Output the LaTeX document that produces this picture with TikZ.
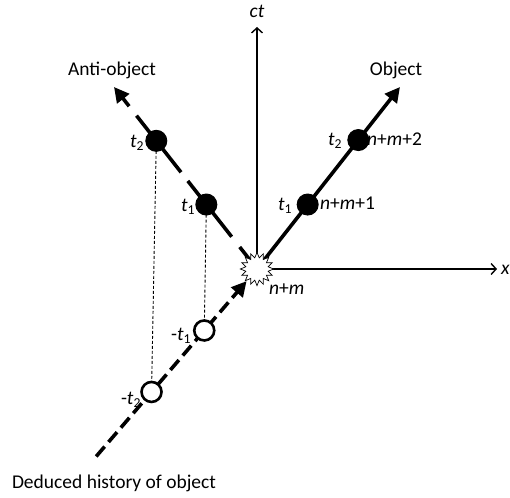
\documentclass[tikz,border=0pt]{standalone}
\usepackage{fontspec}
\setmainfont{Carlito}
\usetikzlibrary{arrows.meta,calc}
\begin{document}
\begin{tikzpicture}[x=1bp,y=-1bp,
  lbl/.style={inner sep=0pt,font=\fontsize{19.5bp}{22bp}\selectfont},
  fulldot/.style={circle,fill=black,draw=black,line width=1bp,minimum size=21bp,inner sep=0pt},
  opendot/.style={circle,fill=white,draw=black,line width=2.6bp,minimum size=20bp,inner sep=0pt},
  axisline/.style={line width=1.4bp,-{Straight Barb[length=5bp,width=11bp,line width=1.4bp]}},
  thickline/.style={line width=3.6bp,line cap=butt},
  tipF/.style={-{Triangle[length=15bp,width=15bp]}},
  dropline/.style={line width=0.9bp,dash pattern=on 3bp off 2bp}]
\path[use as bounding box] (0,0) rectangle (510,498);
\coordinate (O) at (257,269);
\coordinate (OA) at (400,87);
\coordinate (AA) at (114,87);
\coordinate (HA) at (100,452);
\coordinate (CT) at (257,27);
\coordinate (XT) at (497,269);
% points
\coordinate (p1) at ($(O)!82bp!(OA)$);
\coordinate (p2) at ($(O)!164bp!(OA)$);
\coordinate (a1) at ($(O)!82bp!(AA)$);
\coordinate (a2) at ($(O)!163bp!(AA)$);
\coordinate (h1) at ($(O)!81bp!(HA)$);
\coordinate (h2) at ($(O)!162bp!(HA)$);
\coordinate (hend) at ($(O)!247bp!(HA)$);
\coordinate (htip) at ($(O)!16bp!(HA)$);
% axes
\draw[axisline] (O) -- (CT);
\draw[axisline] (O) -- (XT);
% drop lines
\draw[dropline] (a2) -- (h2);
\draw[dropline] (a1) -- (h1);
% object line
\draw[thickline,tipF] (O) -- (OA);
% anti-object dashed line
\draw[thickline] ($(O)!12bp!(AA)$) -- ($(O)!28bp!(AA)$);
\draw[thickline] ($(O)!41bp!(AA)$) -- ($(O)!112bp!(AA)$);
\draw[thickline] ($(O)!123bp!(AA)$) -- ($(O)!195bp!(AA)$);
\draw[thickline,tipF] ($(O)!207bp!(AA)$) -- (AA);
% history line
\draw[thickline,tipF,dash pattern=on 13bp off 6bp] (hend) -- (htip);
% dots
\node[fulldot] (P1) at (p1) {};
\node[fulldot] (P2) at (p2) {};
\node[fulldot] (A1) at (a1) {};
\node[fulldot] (A2) at (a2) {};
\node[opendot] (H1) at (h1) {};
\node[opendot] (H2) at (h2) {};
% starburst
\draw[line width=0.7bp,fill=white] plot[domain=0:31,samples=32]
  ({257+(14+2.6*cos(180*\x))*cos(11.25*\x)},{269+(14+2.6*cos(180*\x))*sin(11.25*\x)}) -- cycle;
% labels
\node[lbl] (ct) at (257,11) {\textit{ct}};
\node[lbl,anchor=west] (xl) at (501,270) {\textit{x}};
\node[lbl] (obj) at (396,70) {Object};
\node[lbl] (anti) at (112,70) {Anti-object};
\node[lbl] (hist) at (114,483) {Deduced history of object};
\node[lbl,anchor=west] (nm) at (269,289) {\textit{n}+\textit{m}};
\node[lbl,anchor=west] (nm1) at (320,203) {\textit{n}+\textit{m}+1};
\node[lbl,anchor=west] (nm2) at (367,139) {\textit{n}+\textit{m}+2};
\node[lbl] (lp1) at (285,206) {\textit{t}\textsubscript{1}};
\node[lbl] (lp2) at (335,141) {\textit{t}\textsubscript{2}};
\node[lbl] (la1) at (188,207) {\textit{t}\textsubscript{1}};
\node[lbl] (la2) at (137,143) {\textit{t}\textsubscript{2}};
\node[lbl] (lh1) at (181,336) {-\textit{t}\textsubscript{1}};
\node[lbl] (lh2) at (131,400) {-\textit{t}\textsubscript{2}};
\end{tikzpicture}
\end{document}
